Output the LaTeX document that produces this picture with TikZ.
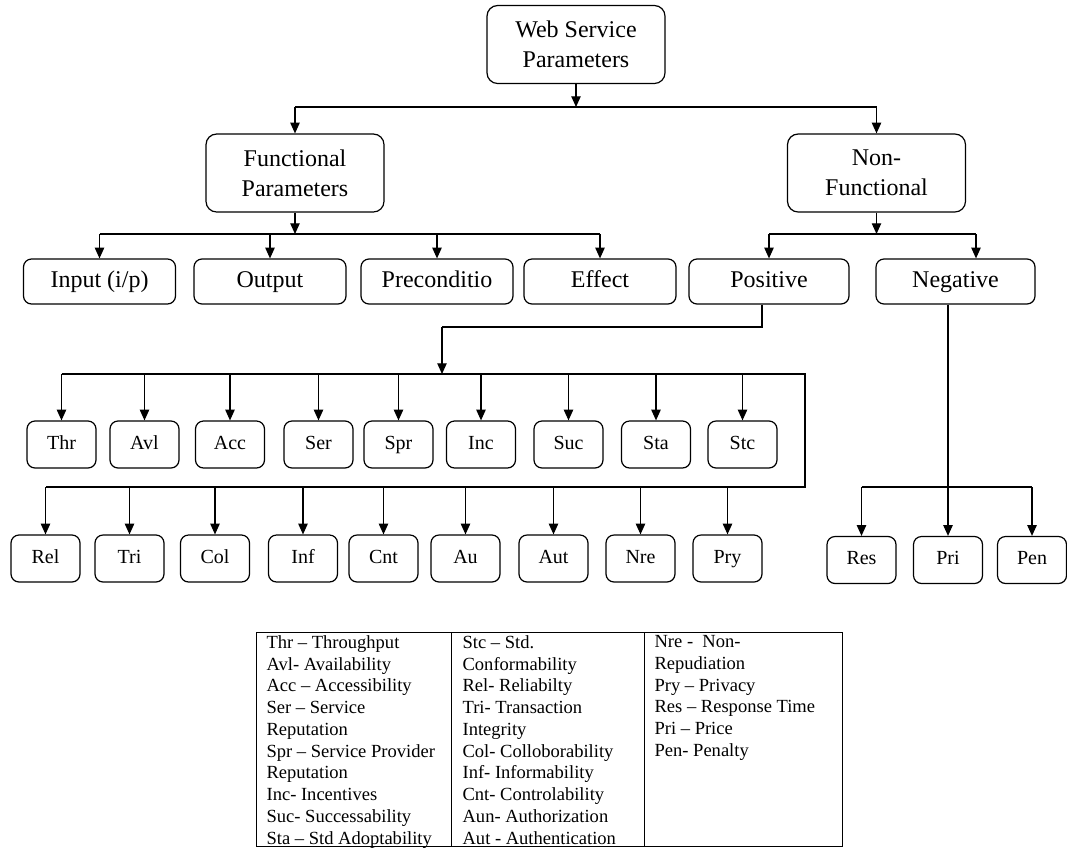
\documentclass[tikz,border=0pt]{standalone}
\usepackage{fontspec}
\setmainfont{Liberation Serif}
\usetikzlibrary{arrows.meta}

\def\unid{0.75pt}

\begin{document}
\begin{tikzpicture}[x=\unid, y=-\unid, line width=0.9pt,
    grande/.style={draw, rounded corners=8pt, align=center, inner sep=0pt,
        minimum width=178*\unid, minimum height=78*\unid,
        font=\fontsize{18}{22.5}\selectfont},
    media/.style={draw, rounded corners=6pt, inner sep=0pt,
        minimum width=152*\unid, minimum height=45*\unid,
        text height=12.5pt, text depth=4pt,
        font=\fontsize{18}{22}\selectfont},
    pequena/.style={draw, rounded corners=6pt, inner sep=0pt,
        minimum width=69*\unid, minimum height=47*\unid,
        text height=10.5pt, text depth=3.3pt,
        font=\fontsize{15}{18}\selectfont},
    seta/.style={-{Triangle[length=8pt,width=7pt]}},
    legenda/.style={anchor=north west, align=left, inner sep=0pt,
        font=\fontsize{13.9}{16.3}\selectfont}]

\useasboundingbox (0,0) rectangle (1067,847);

%raiz
    \node[grande] (wsp) at (576,44.5) {Web Service\\Parameters};
    \node[grande] (func) at (295,173) {Functional\\Parameters};
    \node[grande] (nonf) at (876.5,173) {Non-\\Functional};

    \coordinate (b0) at (0,107);
    \draw[seta] (wsp.south) -- (wsp.south |- b0);
    \draw (func.north |- b0) -- (nonf.north |- b0);
    \draw[seta] (func.north |- b0) -- (func.north);
    \draw[seta] (nonf.north |- b0) -- (nonf.north);

%funcionais
    \node[media] (inp) at (99.5,281.5) {Input (i/p)};
    \node[media] (out) at (270,281.5) {Output};
    \node[media] (pre) at (437,281.5) {Preconditio};
    \node[media] (eff) at (600,281.5) {Effect};
    \node[media, minimum width=160*\unid] (pos) at (769,281.5) {Positive};
    \node[media, minimum width=159*\unid] (neg) at (955.5,281.5) {Negative};

    \coordinate (b1) at (0,234);
    \draw[seta] (func.south) -- (func.south |- b1);
    \draw (inp.north |- b1) -- (eff.north |- b1);
    \foreach \n in {inp,out,pre,eff}
        \draw[seta] (\n.north |- b1) -- (\n.north);

%nao funcionais
    \coordinate (nb) at ([xshift=20.5*\unid]neg.north);
    \draw[seta] (nonf.south) -- (nonf.south |- b1);
    \draw (pos.north |- b1) -- (nb |- b1);
    \draw[seta] (pos.north |- b1) -- (pos.north);
    \draw[seta] (nb |- b1) -- (nb);

%positivos
    \foreach \n/\x in {Thr/61.5,Avl/144.5,Acc/230,Ser/318.5,Spr/398.5,
                       Inc/481,Suc/568.5,Sta/656,Stc/742.5}
        \node[pequena] (\n) at (\x,444.5) {\n};

    \foreach \n/\x in {Rel/45.5,Tri/129.5,Col/215,Inf/303,Cnt/383.5,
                       Au/465.5,Aut/553.5,Nre/640.5,Pry/727.5}
        \node[pequena] (\n) at (\x,558.5) {\n};

    \coordinate (p1) at (442,327);
    \coordinate (b2) at (0,374);
    \coordinate (b3) at (0,487);
    \coordinate (fim) at (805,0);

    \draw ([xshift=-7*\unid]pos.south) |- (p1);
    \draw[seta] (p1) -- (p1 |- b2);
    \draw (Thr.north |- b2) -| (fim |- b3) -- (Rel.north |- b3);

    \foreach \n in {Thr,Avl,Acc,Ser,Spr,Inc,Suc,Sta,Stc}
        \draw[seta] (\n.north |- b2) -- (\n.north);
    \foreach \n in {Rel,Tri,Col,Inf,Cnt,Au,Aut,Nre,Pry}
        \draw[seta] (\n.north |- b3) -- (\n.north);

%negativos
    \node[pequena] (Res) at (861.5,560) {Res};
    \node[pequena] (Pri) at (948,560) {Pri};
    \node[pequena] (Pen) at (1032,560) {Pen};

    \draw[seta] (neg.south -| Pri.north) -- (Pri.north);
    \draw (Res.north |- b3) -- (Pen.north |- b3);
    \draw[seta] (Res.north |- b3) -- (Res.north);
    \draw[seta] (Pen.north |- b3) -- (Pen.north);

%legenda
    \draw[line width=0.75pt] (256,632) rectangle (842,846);
    \draw[line width=0.75pt] (451.5,632) -- (451.5,846);
    \draw[line width=0.75pt] (644,632) -- (644,846);

    \node[legenda] (leg1) at (266,635) {Thr – Throughput\\Avl- Availability\\Acc – Accessibility\\Ser – Service\\Reputation\\Spr – Service Provider\\Reputation\\Inc- Incentives\\Suc- Successability\\Sta – Std Adoptability};
    \node[legenda] (leg2) at (462,635) {Stc – Std.\\Conformability\\Rel- Reliabilty\\Tri- Transaction\\Integrity\\Col- Colloborability\\Inf- Informability\\Cnt- Controlability\\Aun- Authorization\\Aut - Authentication};
    \node[legenda] (leg3) at (654,635) {Nre -~ Non-\\Repudiation\\Pry – Privacy\\Res – Response Time\\Pri – Price\\Pen- Penalty};

\end{tikzpicture}
\end{document}
